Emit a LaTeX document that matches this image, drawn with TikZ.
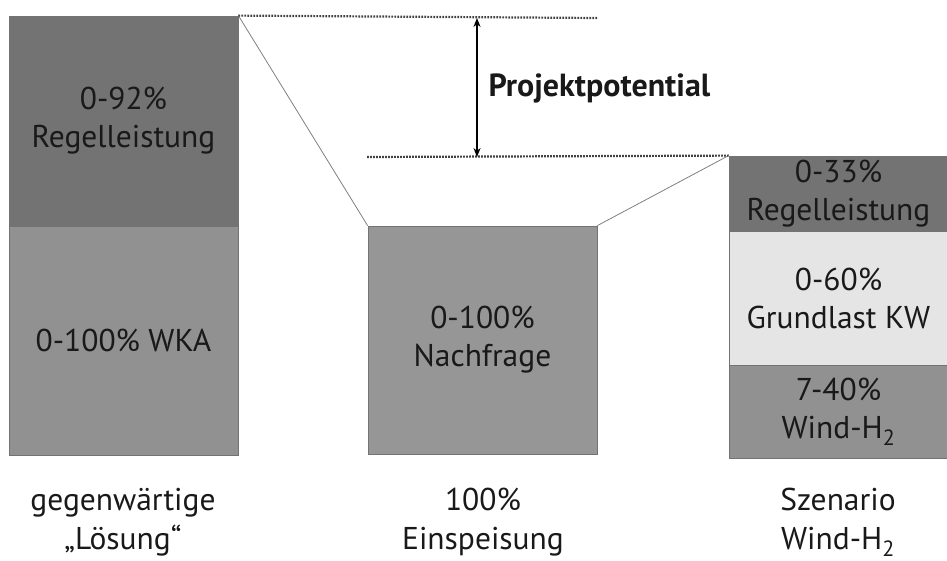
\documentclass[tikz,border=0pt]{standalone}
\usepackage{fontspec}
\setmainfont{PT Sans}
\usetikzlibrary{arrows.meta}
\definecolor{dunkel}{gray}{0.45}
\definecolor{mittel}{gray}{0.59}
\definecolor{hell}{gray}{0.9}
\definecolor{schrift}{gray}{0.1}
\tikzset{
	block/.style={draw=black!55, line width=.8pt, inner sep=0pt, align=center,
		text=schrift, font=\fontsize{31.5}{38}\selectfont},
	label/.style={align=center, text=schrift, font=\fontsize{31.5}{39}\selectfont},
	trenn/.style={draw=black!75, line width=2.2pt, dash pattern=on 1.8pt off 1.2pt},
	schraeg/.style={draw=black!50, line width=.8pt}
}
\begin{document}
\begin{tikzpicture}[x=1pt,y=-1pt]
	\useasboundingbox (0,0) rectangle (947,561);
	% linke Saeule
	\node[block, fill=dunkel, minimum width=229pt, minimum height=210pt] (regelL) at (123.5,121) {0-92\%\\Regelleistung};
	\node[block, fill=mittel!105, minimum width=229pt, minimum height=229pt] (wka) at (123.5,340.5) {0-100\% WKA};
	% mittlere Saeule
	\node[block, fill=mittel, minimum width=229pt, minimum height=228pt] (nachfrage) at (482.5,340) {0-100\%\\Nachfrage};
	% rechte Saeule
	\node[block, fill=dunkel, minimum width=219pt, minimum height=75pt] (regelR) at (838.5,193.5) {0-33\%\\Regelleistung};
	\node[block, fill=hell, minimum width=219pt, minimum height=134pt] (grundlast) at (838.5,298) {0-60\%\\Grundlast KW};
	\node[block, fill=mittel!105, minimum width=219pt, minimum height=93pt] (windh) at (838.5,411.5) {7-40\%\\Wind-H\textsubscript{2}};
	% Verbindungen
	\draw[schraeg] (regelL.north east) -- (nachfrage.north west);
	\draw[schraeg] (nachfrage.north east) -- (regelR.north west);
	\coordinate (obenE) at (597,18);
	\coordinate (untenA) at (367,157);
	\draw[trenn] (regelL.north east) -- (obenE);
	\draw[trenn] (untenA) -- (regelR.north west);
	\coordinate (pfeilO) at (477,18);
	\coordinate (pfeilU) at (477,157);
	\draw[line width=1.8pt, {Stealth[length=9pt,width=7pt]}-{Stealth[length=9pt,width=7pt]}] (pfeilO) -- (pfeilU);
	\node[label, font=\fontsize{32}{36}\selectfont\bfseries, anchor=west] (potential) at (485,88) {Projektpotential};
	% Beschriftungen
	\node[label] (loesung) at (123,522) {gegenwärtige\\„Lösung“};
	\node[label] (einspeisung) at (483,522) {100\%\\Einspeisung};
	\node[label] (szenario) at (838,522) {Szenario\\Wind-H\textsubscript{2}};
\end{tikzpicture}
\end{document}
